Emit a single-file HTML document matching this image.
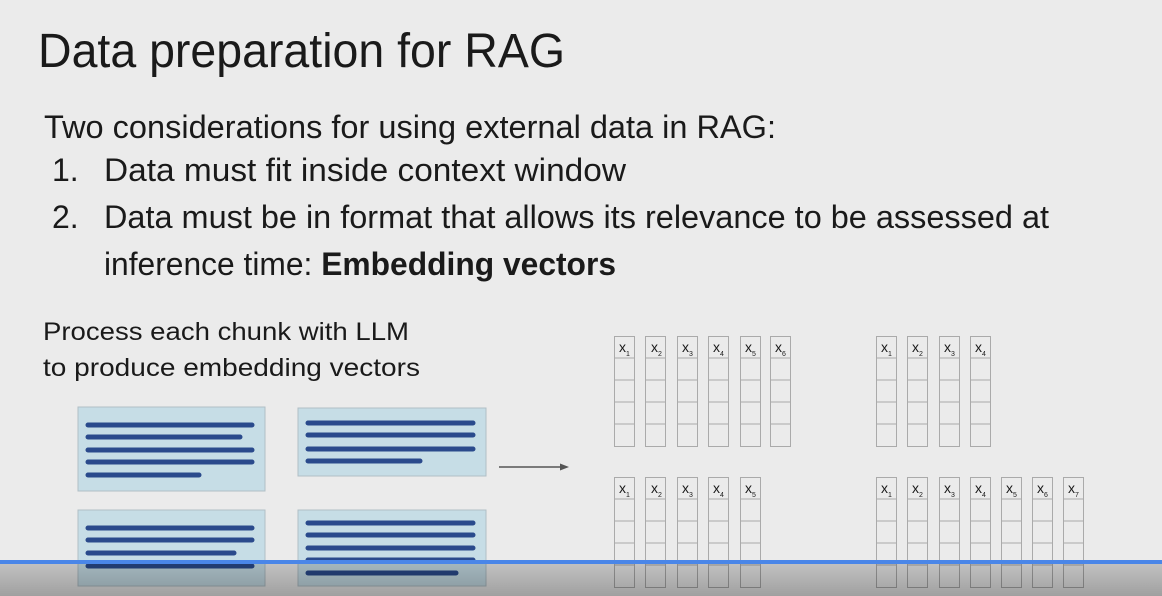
<!DOCTYPE html>
<html><head><style>
html,body{margin:0;padding:0;background:#ebebeb;}
svg{display:block;}
text{font-family:"Liberation Sans",sans-serif;fill:#1a1a1a;}
</style></head><body>
<svg width="1162" height="596" viewBox="0 0 1162 596" xmlns="http://www.w3.org/2000/svg">
<defs>
<linearGradient id="sh" x1="0" y1="0" x2="0" y2="1">
<stop offset="0" stop-color="#000" stop-opacity="0.18"/>
<stop offset="1" stop-color="#000" stop-opacity="0.32"/>
</linearGradient>
<g id="col">
<rect x="0.5" y="0.5" width="20" height="110" fill="none" stroke="#aaa" stroke-width="1"/>
<line x1="0" y1="22" x2="21" y2="22" stroke="#aaa"/>
<line x1="0" y1="44" x2="21" y2="44" stroke="#aaa"/>
<line x1="0" y1="66" x2="21" y2="66" stroke="#aaa"/>
<line x1="0" y1="88" x2="21" y2="88" stroke="#aaa"/>
</g>
</defs>
<rect width="1162" height="596" fill="#ebebeb"/>
<text x="38" y="67" font-size="48" textLength="527" lengthAdjust="spacingAndGlyphs">Data preparation for RAG</text>
<text x="44" y="138" font-size="32" textLength="732" lengthAdjust="spacingAndGlyphs">Two considerations for using external data in RAG:</text>
<text x="52" y="181" font-size="32">1.</text>
<text x="104" y="181" font-size="32" textLength="522" lengthAdjust="spacingAndGlyphs">Data must fit inside context window</text>
<text x="52" y="228" font-size="32">2.</text>
<text x="104" y="228" font-size="32" textLength="945" lengthAdjust="spacingAndGlyphs">Data must be in format that allows its relevance to be assessed at</text>
<text x="104" y="275" font-size="32" textLength="512" lengthAdjust="spacingAndGlyphs">inference time: <tspan font-weight="bold">Embedding vectors</tspan></text>
<text x="43" y="340" font-size="25" textLength="366" lengthAdjust="spacingAndGlyphs">Process each chunk with LLM</text>
<text x="43" y="376" font-size="25" textLength="377" lengthAdjust="spacingAndGlyphs">to produce embedding vectors</text>

<g fill="#c6dde6" stroke="#b0bfc6" stroke-width="1">
<rect x="78" y="407" width="187" height="84"/>
<rect x="298" y="408" width="188" height="68"/>
<rect x="78" y="510" width="187" height="76"/>
<rect x="298" y="510" width="188" height="76"/>
</g>
<g stroke="#2a4a8c" stroke-width="5" stroke-linecap="round">
<line x1="88" y1="425" x2="252" y2="425"/><line x1="88" y1="437" x2="240" y2="437"/><line x1="88" y1="450" x2="252" y2="450"/><line x1="88" y1="462" x2="252" y2="462"/><line x1="88" y1="475" x2="199" y2="475"/>
<line x1="308" y1="423" x2="473" y2="423"/><line x1="308" y1="435" x2="473" y2="435"/><line x1="308" y1="449" x2="473" y2="449"/><line x1="308" y1="461" x2="420" y2="461"/>
<line x1="88" y1="528" x2="252" y2="528"/><line x1="88" y1="540" x2="252" y2="540"/><line x1="88" y1="553" x2="234" y2="553"/><line x1="88" y1="566" x2="252" y2="566"/>
<line x1="308" y1="523" x2="473" y2="523"/><line x1="308" y1="535" x2="473" y2="535"/><line x1="308" y1="548" x2="473" y2="548"/><line x1="308" y1="560" x2="473" y2="560"/><line x1="308" y1="573" x2="456" y2="573"/>
</g>
<line x1="499" y1="467" x2="562" y2="467" stroke="#555" stroke-width="1.5"/>
<polygon points="569,467 560,463.5 560,470.5" fill="#555"/>

<g font-size="14">
<use href="#col" x="614" y="336"/><use href="#col" x="645" y="336"/><use href="#col" x="677" y="336"/><use href="#col" x="708" y="336"/><use href="#col" x="740" y="336"/><use href="#col" x="770" y="336"/>
<text x="619" y="352">x<tspan font-size="7" dy="4">1</tspan></text>
<text x="651" y="352">x<tspan font-size="7" dy="4">2</tspan></text>
<text x="682" y="352">x<tspan font-size="7" dy="4">3</tspan></text>
<text x="713" y="352">x<tspan font-size="7" dy="4">4</tspan></text>
<text x="745" y="352">x<tspan font-size="7" dy="4">5</tspan></text>
<text x="775" y="352">x<tspan font-size="7" dy="4">6</tspan></text>

<use href="#col" x="876" y="336"/><use href="#col" x="907" y="336"/><use href="#col" x="939" y="336"/><use href="#col" x="970" y="336"/>
<text x="881" y="352">x<tspan font-size="7" dy="4">1</tspan></text>
<text x="912" y="352">x<tspan font-size="7" dy="4">2</tspan></text>
<text x="944" y="352">x<tspan font-size="7" dy="4">3</tspan></text>
<text x="975" y="352">x<tspan font-size="7" dy="4">4</tspan></text>

<use href="#col" x="614" y="477"/><use href="#col" x="645" y="477"/><use href="#col" x="677" y="477"/><use href="#col" x="708" y="477"/><use href="#col" x="740" y="477"/>
<text x="619" y="493">x<tspan font-size="7" dy="4">1</tspan></text>
<text x="651" y="493">x<tspan font-size="7" dy="4">2</tspan></text>
<text x="682" y="493">x<tspan font-size="7" dy="4">3</tspan></text>
<text x="713" y="493">x<tspan font-size="7" dy="4">4</tspan></text>
<text x="745" y="493">x<tspan font-size="7" dy="4">5</tspan></text>

<use href="#col" x="876" y="477"/><use href="#col" x="907" y="477"/><use href="#col" x="939" y="477"/><use href="#col" x="970" y="477"/><use href="#col" x="1001" y="477"/><use href="#col" x="1032" y="477"/><use href="#col" x="1063" y="477"/>
<text x="881" y="493">x<tspan font-size="7" dy="4">1</tspan></text>
<text x="912" y="493">x<tspan font-size="7" dy="4">2</tspan></text>
<text x="944" y="493">x<tspan font-size="7" dy="4">3</tspan></text>
<text x="975" y="493">x<tspan font-size="7" dy="4">4</tspan></text>
<text x="1006" y="493">x<tspan font-size="7" dy="4">5</tspan></text>
<text x="1037" y="493">x<tspan font-size="7" dy="4">6</tspan></text>
<text x="1068" y="493">x<tspan font-size="7" dy="4">7</tspan></text>
</g>

<rect x="0" y="564" width="1162" height="32" fill="url(#sh)"/>
<rect x="0" y="560" width="1162" height="4" fill="#4a86e8"/>
</svg>
</body></html>
